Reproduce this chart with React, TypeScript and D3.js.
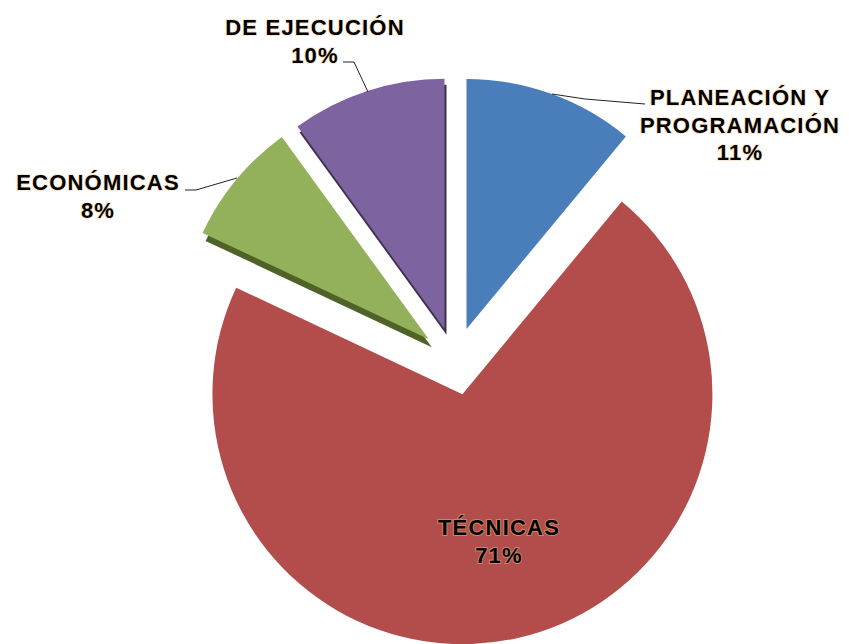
import React from "react";
import * as d3 from "d3";

const categories = ["PLANEACIÓN Y PROGRAMACIÓN", "TÉCNICAS", "ECONÓMICAS", "DE EJECUCIÓN"];
const values = [11, 71, 8, 10];
const colors = ["#4A7EBB", "#B34D4B", "#93B15A", "#7D64A0"];
const sideColors = ["#2E4F77", "#6E2E2D", "#4F6228", "#3F3151"];
const showSide = [false, false, true, true];
const labelLines = [["PLANEACIÓN Y", "PROGRAMACIÓN"], ["TÉCNICAS"], ["ECONÓMICAS"], ["DE EJECUCIÓN"]];
const labelPos = [
  { x: 740, y: 105 },
  { x: 499, y: 535 },
  { x: 98, y: 190 },
  { x: 315, y: 35 },
];
const leaders: ([number, number][] | null)[] = [
  [[552, 94], [585, 99], [645, 104]],
  null,
  [[185, 190], [196, 190], [237, 178]],
  [[343, 62], [354, 62], [368, 92]],
];

const W = 849;
const H = 644;
const cx = 455;
const cy = 361;
const R = 250;
const explode = 34;

export default function App() {
  const pie = d3.pie<number>().sort(null).startAngle(0).endAngle(2 * Math.PI)(values);
  const arc = d3.arc<d3.PieArcDatum<number>>().innerRadius(0).outerRadius(R);
  const total = d3.sum(values);
  const fmt = (v: number) => `${Math.round((v / total) * 100)}%`;

  return (
    <svg width={W} height={H} style={{ position: "absolute", left: 0, top: 0, display: "block", background: "#fff" }}>
      {pie.map((d, i) => {
        const mid = (d.startAngle + d.endAngle) / 2;
        const ox = cx + explode * Math.sin(mid);
        const oy = cy - explode * Math.cos(mid);
        return (
          <g key={categories[i]} transform={`translate(${ox},${oy})`}>
            {showSide[i] && (
              <path d={arc(d) || ""} fill={sideColors[i]} transform={i === 2 ? "translate(3,8)" : "translate(2,6)"} />
            )}
            <path d={arc(d) || ""} fill={colors[i]} />
          </g>
        );
      })}
      {leaders.map((pts, i) =>
        pts ? (
          <path key={"l" + i} d={d3.line()(pts) || ""} fill="none" stroke="#222" strokeWidth={1} />
        ) : null
      )}
      {pie.map((d, i) => {
        const p = labelPos[i];
        const lines = [...labelLines[i], fmt(d.value)];
        return (
          <text
            key={"t" + i}
            x={p.x}
            y={p.y}
            textAnchor="middle"
            fontFamily="'Liberation Sans', Arial, sans-serif"
            fontWeight="bold"
            fontSize={22}
            letterSpacing={1.2}
            fill="#000"
            stroke="#f2c98a"
            strokeOpacity={0.45}
            strokeWidth={2}
            paintOrder="stroke"
          >
            {lines.map((ln, j) => (
              <tspan key={j} x={p.x} dy={j === 0 ? 0 : 27.5}>
                {ln}
              </tspan>
            ))}
          </text>
        );
      })}
    </svg>
  );
}
